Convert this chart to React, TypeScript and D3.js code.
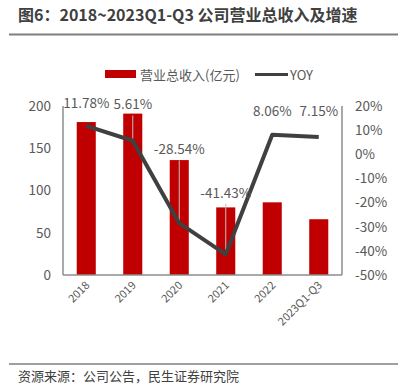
import React from "react";
import * as d3 from "d3";

const categories = ["2018", "2019", "2020", "2021", "2022", "2023Q1-Q3"];
const revenue = [181, 191, 136, 80, 86, 66];
const yoy = [11.78, 5.61, -28.54, -41.43, 8.06, 7.15];
const yoyLabels = ["11.78%", "5.61%", "-28.54%", "-41.43%", "8.06%", "7.15%"];
const leftTicks = [0, 50, 100, 150, 200];
const rightTicks = [-50, -40, -30, -20, -10, 0, 10, 20];
// label y-positions (in % units of right axis) as placed in the reference
const labelPos = [21.3, 20.6, 2.0, -15.9, 17.8, 17.8];
// whether each label has a leader line to its point
const hasLeader = [false, true, true, true, false, false];

const W = 398, H = 385;
const font = "'Noto Sans CJK SC', 'Open Sans', sans-serif";

export default function App() {
  const left = 63, right = 342, top = 106, bottom = 275;
  const x = d3.scaleBand<string>().domain(categories).range([left, right]).paddingInner(0.59).paddingOuter(0.295);
  const yL = d3.scaleLinear().domain([0, 200]).range([bottom, top]);
  const yR = d3.scaleLinear().domain([-50, 20]).range([bottom, top]);
  const cx = (c: string) => (x(c) as number) + x.bandwidth() / 2;
  const line = d3.line<number>().x((_, i) => cx(categories[i])).y((d) => yR(d));
  const grey = "#595959";

  return (
    <svg width={W} height={H} style={{ position: "absolute", left: 0, top: 0, background: "#fff" }} fontFamily={font}>
      <text x={18} y={21} fontSize={16} fontWeight="bold" fill="#404040">图6：2018~2023Q1-Q3 公司营业总收入及增速</text>
      <line x1={9} x2={398} y1={34.5} y2={34.5} stroke="#7f7f7f" strokeWidth={2} />

      {/* legend */}
      <rect x={105} y={70} width={31} height={8} fill="#C00000" />
      <text x={140} y={79.5} fontSize={13} fill={grey}>营业总收入(亿元)</text>
      <line x1={255} x2={288} y1={74.5} y2={74.5} stroke="#404040" strokeWidth={3} />
      <text x={290} y={79.5} fontSize={13} fill={grey}>YOY</text>

      {/* bars */}
      {revenue.map((v, i) => (
        <rect key={i} x={x(categories[i])} y={yL(v)} width={x.bandwidth()} height={bottom - yL(v)} fill="#C00000" />
      ))}

      {/* axes */}
      <line x1={left} x2={left} y1={top} y2={bottom} stroke="#8c8c8c" strokeWidth={1.5} />
      <line x1={right} x2={right} y1={top} y2={bottom} stroke="#8c8c8c" strokeWidth={1.5} />
      <line x1={left} x2={right} y1={bottom} y2={bottom} stroke="#8c8c8c" strokeWidth={1.5} />

      {leftTicks.map((t) => (
        <text key={t} x={51} y={yL(t)} dy="0.36em" textAnchor="end" fontSize={13.5} fill={grey}>{t}</text>
      ))}
      {rightTicks.map((t) => (
        <text key={t} x={355} y={yR(t)} dy="0.36em" textAnchor="start" fontSize={13.5} fill={grey}>{t}%</text>
      ))}

      {categories.map((c) => (
        <text key={c} transform={`translate(${cx(c) + 4},${bottom + 11}) rotate(-45)`} textAnchor="end" fontSize={11} fill={grey}>{c}</text>
      ))}

      {/* leader lines */}
      {yoy.map((v, i) => {
        if (!hasLeader[i]) return null;
        const ly = yR(labelPos[i]) + 11;
        const py = yR(v);
        return <line key={i} x1={cx(categories[i])} x2={cx(categories[i])} y1={ly} y2={py - 2} stroke="#bfbfbf" strokeWidth={1} />;
      })}

      <path d={line(yoy) || ""} fill="none" stroke="#404040" strokeWidth={4} strokeLinejoin="round" />

      {yoy.map((_, i) => (
        <text key={i} x={cx(categories[i])} y={yR(labelPos[i])} dy="0.36em" textAnchor="middle" fontSize={13.5} fill={grey}>{yoyLabels[i]}</text>
      ))}

      <line x1={9} x2={398} y1={364} y2={364} stroke="#7f7f7f" strokeWidth={1.5} />
      <text x={18} y={381} fontSize={13} fill="#404040">资源来源：公司公告，民生证券研究院</text>
    </svg>
  );
}
